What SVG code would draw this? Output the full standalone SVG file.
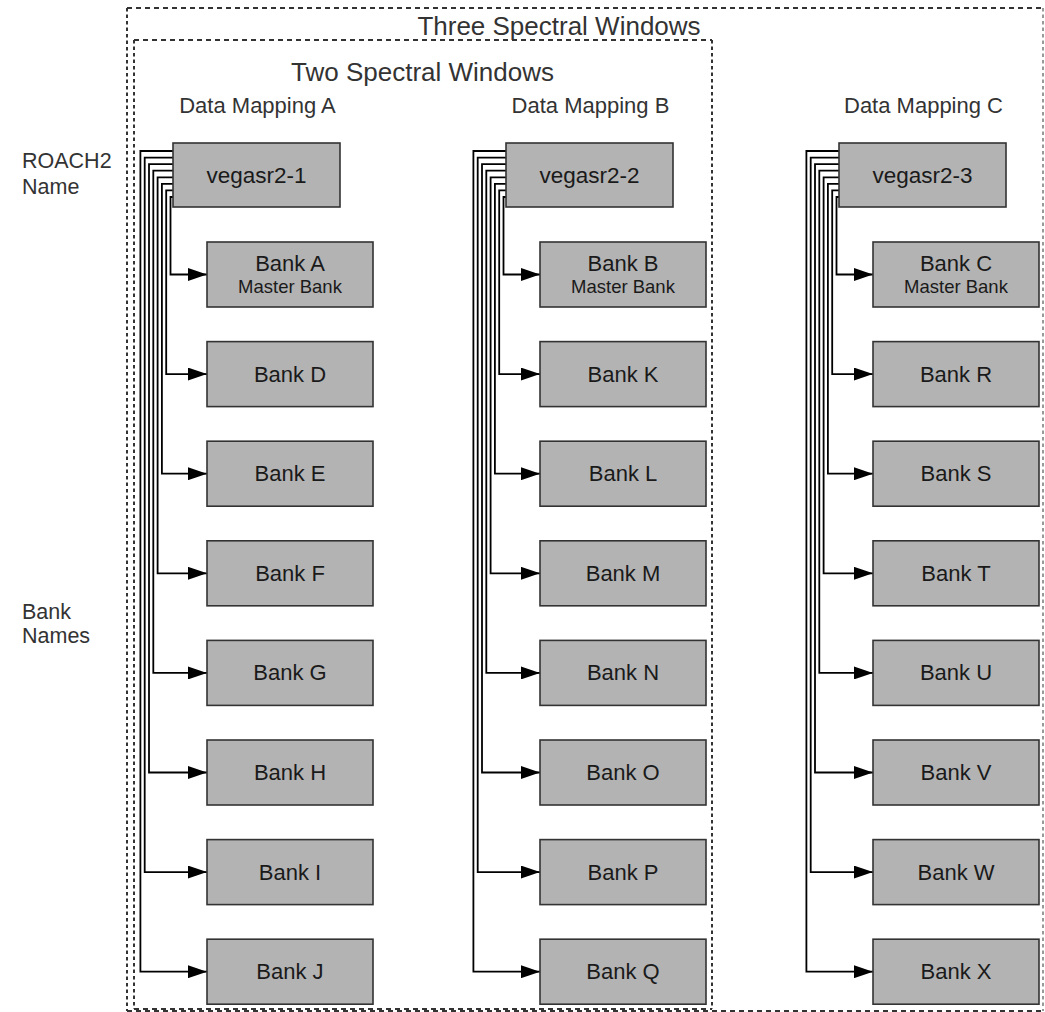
<svg xmlns="http://www.w3.org/2000/svg" width="1045" height="1012" viewBox="0 0 1045 1012">
<defs>
<style>
.box{fill:#b3b3b3;stroke:#333;stroke-width:1.6}
.nt{font-family:"Liberation Sans",Arial,sans-serif;font-size:22px;fill:#1a1a1a;text-anchor:middle}
.vt{font-family:"Liberation Sans",Arial,sans-serif;font-size:22.5px;fill:#1a1a1a;text-anchor:middle}
.mt{font-family:"Liberation Sans",Arial,sans-serif;font-size:18.5px;fill:#1a1a1a;text-anchor:middle}
.lab{font-family:"Liberation Sans",Arial,sans-serif;font-size:21.5px;fill:#333}
.title{font-family:"Liberation Sans",Arial,sans-serif;font-size:26px;fill:#333;text-anchor:middle}
.dh{stroke:#333;stroke-width:2;stroke-dasharray:5 4;fill:none}
.dv{stroke:#333;stroke-width:2;stroke-dasharray:3.5 3;fill:none}
.c{fill:none;stroke:#000;stroke-width:1.8;marker-end:url(#ah)}
</style>
<marker id="ah" markerUnits="userSpaceOnUse" markerWidth="19" markerHeight="13" refX="19" refY="6.5" orient="auto">
<path d="M0,0 L19,6.5 L0,13 Z" fill="#000"/>
</marker>
</defs>
<rect width="1045" height="1012" fill="#fff"/>

<g id="frame-three">
<line class="dh" x1="127" y1="8" x2="1043" y2="8"/>
<line class="dh" x1="127" y1="1011" x2="1043" y2="1011"/>
<line class="dv" x1="127" y1="8" x2="127" y2="1011"/>
<line class="dv" x1="1043" y1="8" x2="1043" y2="1011" style="stroke:#999"/>
<text class="title" x="559" y="35">Three Spectral Windows</text>
</g>
<g id="frame-two">
<line class="dh" x1="134" y1="40" x2="712" y2="40"/>
<line class="dh" x1="134" y1="1009" x2="712" y2="1009"/>
<line class="dv" x1="134" y1="40" x2="134" y2="1009"/>
<line class="dv" x1="712" y1="40" x2="712" y2="1009"/>
<text class="title" x="422.5" y="81">Two Spectral Windows</text>
</g>

<g id="labels">
<text class="lab" x="22" y="168">ROACH2</text>
<text class="lab" x="22" y="194">Name</text>
<text class="lab" x="22" y="619">Bank</text>
<text class="lab" x="22" y="643">Names</text>
<text class="lab" x="257.5" y="113" text-anchor="middle" style="font-size:22px">Data Mapping A</text>
<text class="lab" x="590.5" y="113" text-anchor="middle" style="font-size:22px">Data Mapping B</text>
<text class="lab" x="923.5" y="113" text-anchor="middle" style="font-size:22px">Data Mapping C</text>
</g>

<g id="connectors">
<path class="c" d="M173,197 H170.5 V274.5 H207"/>
<path class="c" d="M173,190.4 H166.2 V374.1 H207"/>
<path class="c" d="M173,183.9 H161.9 V473.7 H207"/>
<path class="c" d="M173,177.3 H157.6 V573.3 H207"/>
<path class="c" d="M173,170.7 H153.3 V672.9 H207"/>
<path class="c" d="M173,164.2 H149 V772.5 H207"/>
<path class="c" d="M173,157.6 H144.7 V872.1 H207"/>
<path class="c" d="M173,151 H140.4 V971.7 H207"/>

<path class="c" d="M506,197 H503.5 V274.5 H540"/>
<path class="c" d="M506,190.4 H499.2 V374.1 H540"/>
<path class="c" d="M506,183.9 H494.9 V473.7 H540"/>
<path class="c" d="M506,177.3 H490.6 V573.3 H540"/>
<path class="c" d="M506,170.7 H486.3 V672.9 H540"/>
<path class="c" d="M506,164.2 H482 V772.5 H540"/>
<path class="c" d="M506,157.6 H477.7 V872.1 H540"/>
<path class="c" d="M506,151 H473.4 V971.7 H540"/>

<path class="c" d="M839,197 H836.5 V274.5 H873"/>
<path class="c" d="M839,190.4 H832.2 V374.1 H873"/>
<path class="c" d="M839,183.9 H827.9 V473.7 H873"/>
<path class="c" d="M839,177.3 H823.6 V573.3 H873"/>
<path class="c" d="M839,170.7 H819.3 V672.9 H873"/>
<path class="c" d="M839,164.2 H815 V772.5 H873"/>
<path class="c" d="M839,157.6 H810.7 V872.1 H873"/>
<path class="c" d="M839,151 H806.4 V971.7 H873"/>
</g>

<g id="vegasr2-1"><rect class="box" x="173" y="143" width="167" height="64"/><text class="vt" x="256.5" y="183">vegasr2-1</text></g>
<g id="vegasr2-2"><rect class="box" x="506" y="143" width="167" height="64"/><text class="vt" x="589.5" y="183">vegasr2-2</text></g>
<g id="vegasr2-3"><rect class="box" x="839" y="143" width="167" height="64"/><text class="vt" x="922.5" y="183">vegasr2-3</text></g>

<g id="bank-A"><rect class="box" x="207" y="242" width="166" height="65"/><text class="nt" x="290" y="271">Bank A</text><text class="mt" x="290" y="293">Master Bank</text></g>
<g id="bank-D"><rect class="box" x="207" y="341.6" width="166" height="65"/><text class="nt" x="290" y="381.6">Bank D</text></g>
<g id="bank-E"><rect class="box" x="207" y="441.2" width="166" height="65"/><text class="nt" x="290" y="481.2">Bank E</text></g>
<g id="bank-F"><rect class="box" x="207" y="540.8" width="166" height="65"/><text class="nt" x="290" y="580.8">Bank F</text></g>
<g id="bank-G"><rect class="box" x="207" y="640.4" width="166" height="65"/><text class="nt" x="290" y="680.4">Bank G</text></g>
<g id="bank-H"><rect class="box" x="207" y="740" width="166" height="65"/><text class="nt" x="290" y="780">Bank H</text></g>
<g id="bank-I"><rect class="box" x="207" y="839.6" width="166" height="65"/><text class="nt" x="290" y="879.6">Bank I</text></g>
<g id="bank-J"><rect class="box" x="207" y="939.2" width="166" height="65"/><text class="nt" x="290" y="979.2">Bank J</text></g>

<g id="bank-B"><rect class="box" x="540" y="242" width="166" height="65"/><text class="nt" x="623" y="271">Bank B</text><text class="mt" x="623" y="293">Master Bank</text></g>
<g id="bank-K"><rect class="box" x="540" y="341.6" width="166" height="65"/><text class="nt" x="623" y="381.6">Bank K</text></g>
<g id="bank-L"><rect class="box" x="540" y="441.2" width="166" height="65"/><text class="nt" x="623" y="481.2">Bank L</text></g>
<g id="bank-M"><rect class="box" x="540" y="540.8" width="166" height="65"/><text class="nt" x="623" y="580.8">Bank M</text></g>
<g id="bank-N"><rect class="box" x="540" y="640.4" width="166" height="65"/><text class="nt" x="623" y="680.4">Bank N</text></g>
<g id="bank-O"><rect class="box" x="540" y="740" width="166" height="65"/><text class="nt" x="623" y="780">Bank O</text></g>
<g id="bank-P"><rect class="box" x="540" y="839.6" width="166" height="65"/><text class="nt" x="623" y="879.6">Bank P</text></g>
<g id="bank-Q"><rect class="box" x="540" y="939.2" width="166" height="65"/><text class="nt" x="623" y="979.2">Bank Q</text></g>

<g id="bank-C"><rect class="box" x="873" y="242" width="166" height="65"/><text class="nt" x="956" y="271">Bank C</text><text class="mt" x="956" y="293">Master Bank</text></g>
<g id="bank-R"><rect class="box" x="873" y="341.6" width="166" height="65"/><text class="nt" x="956" y="381.6">Bank R</text></g>
<g id="bank-S"><rect class="box" x="873" y="441.2" width="166" height="65"/><text class="nt" x="956" y="481.2">Bank S</text></g>
<g id="bank-T"><rect class="box" x="873" y="540.8" width="166" height="65"/><text class="nt" x="956" y="580.8">Bank T</text></g>
<g id="bank-U"><rect class="box" x="873" y="640.4" width="166" height="65"/><text class="nt" x="956" y="680.4">Bank U</text></g>
<g id="bank-V"><rect class="box" x="873" y="740" width="166" height="65"/><text class="nt" x="956" y="780">Bank V</text></g>
<g id="bank-W"><rect class="box" x="873" y="839.6" width="166" height="65"/><text class="nt" x="956" y="879.6">Bank W</text></g>
<g id="bank-X"><rect class="box" x="873" y="939.2" width="166" height="65"/><text class="nt" x="956" y="979.2">Bank X</text></g>
</svg>
